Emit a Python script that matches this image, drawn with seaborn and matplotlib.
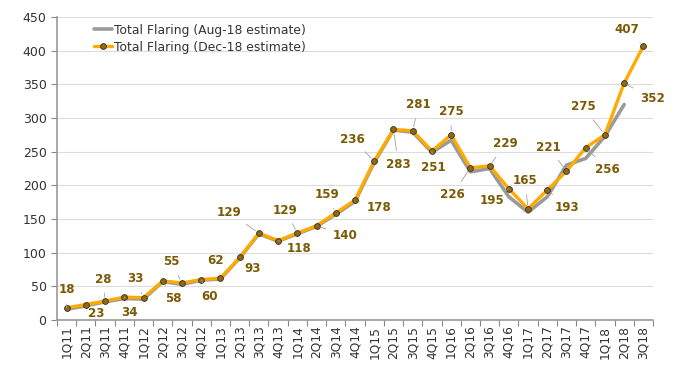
import numpy as np
import pandas as pd
import matplotlib
matplotlib.use("Agg")
import matplotlib.pyplot as plt
import seaborn as sns

quarters = ["1Q11", "2Q11", "3Q11", "4Q11", "1Q12", "2Q12", "3Q12", "4Q12",
            "1Q13", "2Q13", "3Q13", "4Q13", "1Q14", "2Q14", "3Q14", "4Q14",
            "1Q15", "2Q15", "3Q15", "4Q15", "1Q16", "2Q16", "3Q16", "4Q16",
            "1Q17", "2Q17", "3Q17", "4Q17", "1Q18", "2Q18", "3Q18"]
dec18 = [18, 23, 28, 34, 33, 58, 55, 60, 62, 93, 129, 118, 129, 140, 159, 178,
         236, 283, 281, 251, 275, 226, 229, 195, 165, 193, 221, 256, 275, 352, 407]
aug18 = [16, 21, 27, 32, 31, 57, 53, 59, 61, 92, 128, 117, 128, 139, 157, 176,
         234, 282, 279, 249, 267, 220, 225, 183, 160, 183, 230, 240, 273, 320]
# label offsets in pixels (dx, dy) relative to each point
label_dx = [0, 10, -2, 5, -8, 11, -11, 8, -5, 13, -30, 21, -12, 29, -9, 24,
            -22, 5, 6, 1, 0, -18, 16, -17, -3, 20, -18, 22, -22, 28, -17]
label_dy = [18, -9, 22, -15, 19, -18, 21, -17, 18, -11, 21, -8, 23, -10, 18, -7,
            22, -35, 26, -17, 23, -27, 22, -12, 28, -17, 24, -22, 28, -16, 16]
leader = [True, False, True, True, True, True, True, True, True, False, True, True, True, True, True, True,
          True, True, True, True, True, True, True, True, True, True, True, True, True, True, True]

sns.set_theme(style="white")
plt.rcParams['font.family'] = ['DejaVu Sans']

fig = plt.figure(figsize=(6.8, 3.69), dpi=100)
ax = fig.add_axes([57/680, 1-320/369, (653-57)/680, (320-17)/369])

df_aug = pd.DataFrame({"x": np.arange(len(aug18)), "y": aug18})
df_dec = pd.DataFrame({"x": np.arange(len(dec18)), "y": dec18})

sns.lineplot(data=df_aug, x="x", y="y", ax=ax, color="#9a9a9a", lw=2.6,
             label="Total Flaring (Aug-18 estimate)")
sns.lineplot(data=df_dec, x="x", y="y", ax=ax, color="#FFAA00", lw=2.4,
             marker="o", markersize=4.2, markerfacecolor="#8a6a1e",
             markeredgecolor="#3d2f0a", markeredgewidth=0.6,
             label="Total Flaring (Dec-18 estimate)")

label_color = "#7a5a05"
for i, v in enumerate(dec18):
    kw = {}
    if leader[i]:
        kw["arrowprops"] = dict(arrowstyle="-", color="#a0a0a0", lw=0.6,
                                shrinkA=3, shrinkB=3)
    ax.annotate(str(v), xy=(i, v), xytext=(label_dx[i], label_dy[i]),
                textcoords="offset pixels", ha="center", va="center",
                fontsize=8.6, fontweight="bold", color=label_color, **kw)

ax.set_xlim(-0.5, len(quarters) - 0.5)
ax.set_ylim(0, 450)
ax.set_yticks(np.arange(0, 451, 50))
ax.set_xticks(np.arange(len(quarters)))
ax.set_xticklabels(quarters, rotation=90, fontsize=8.8, color="#333333")
ax.set_xticks(np.arange(-0.5, len(quarters), 1), minor=True)
ax.tick_params(axis="x", which="major", length=0, pad=4)
ax.tick_params(axis="x", which="minor", length=4, color="#888888", width=0.8, bottom=True)
ax.tick_params(axis="y", labelsize=9, colors="#888888", labelcolor="#333333",
               length=4, width=0.8, left=True)
ax.set_xlabel("")
ax.set_ylabel("")
ax.yaxis.grid(True, color="#dcdcdc", lw=0.8)
ax.set_axisbelow(True)
for s in ["top", "right"]:
    ax.spines[s].set_visible(False)
for s in ["left", "bottom"]:
    ax.spines[s].set_color("#999999")
    ax.spines[s].set_linewidth(1.2)

leg = ax.legend(loc="upper left", bbox_to_anchor=(30/596, 1.0), frameon=False,
                fontsize=8.9, handlelength=1.5, handletextpad=0.1,
                labelspacing=0.3, borderaxespad=0.15)
for t in leg.get_texts():
    t.set_color("#333333")

fig.savefig("out.png", dpi=100)
